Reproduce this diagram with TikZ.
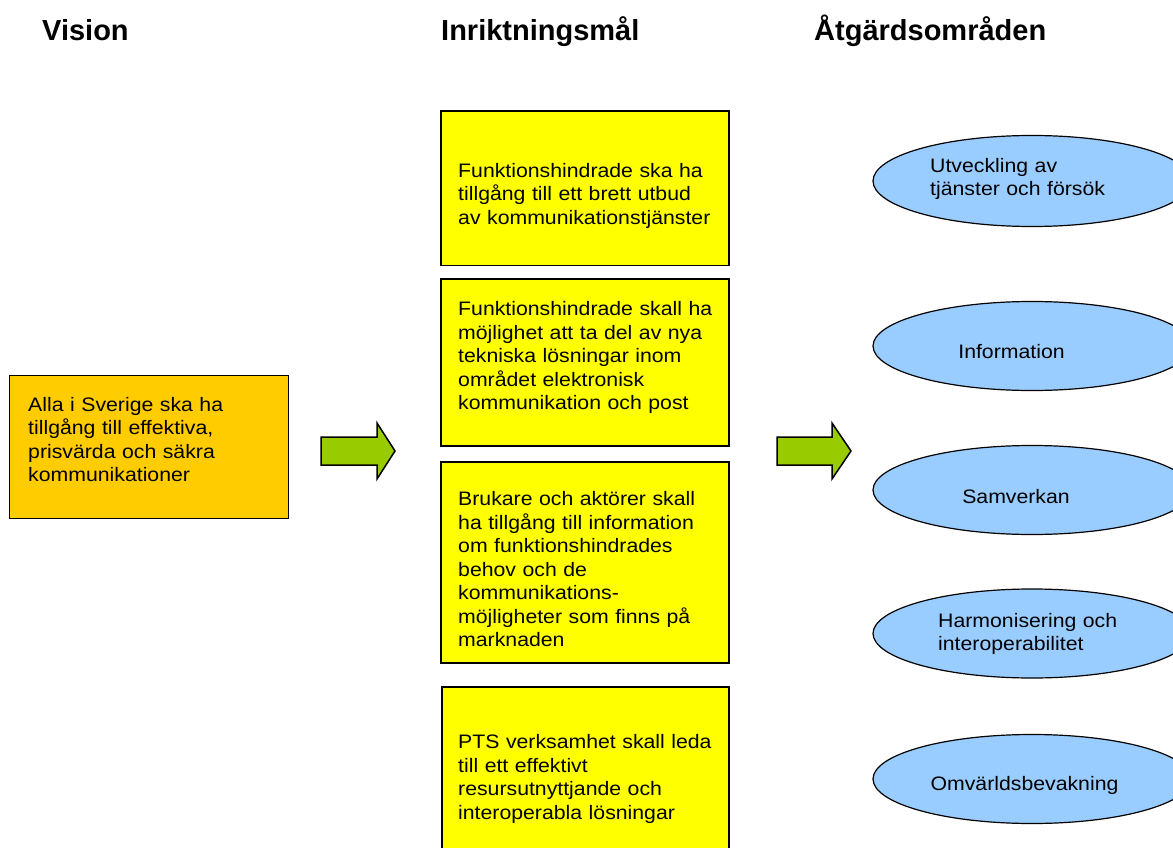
\documentclass[tikz,border=0pt]{standalone}
\usepackage{fontspec}
\setmainfont{Liberation Sans}
\newfontfamily\bodyfont[FakeStretch=1.09]{Liberation Sans}
\usetikzlibrary{shapes.geometric}
\definecolor{visionorange}{HTML}{FFCC00}
\definecolor{goalyellow}{HTML}{FFFF00}
\definecolor{arrowgreen}{HTML}{99CC00}
\definecolor{areablue}{HTML}{99CCFF}
\tikzset{
  titletext/.style={anchor=base west, inner sep=0pt, font=\bfseries\fontsize{29}{34}\selectfont},
  boxtext/.style={anchor=base west, inner sep=0pt, text width=300pt, align=left,
    font=\bodyfont\fontsize{19.5}{23.5}\selectfont},
  ctext/.style={anchor=base, inner sep=0pt, font=\bodyfont\fontsize{19.5}{23.5}\selectfont},
  visionbox/.style={draw=black, line width=1.5pt, fill=visionorange, rectangle, inner sep=0pt},
  goalbox/.style={draw=black, line width=1.5pt, fill=goalyellow, rectangle, inner sep=0pt},
  areaellipse/.style={draw=black, line width=1.2pt, fill=areablue, ellipse, inner sep=0pt,
    minimum width=318pt, minimum height=89pt},
  blockarrow/.style={draw=black, line width=1.5pt, fill=arrowgreen, line join=miter}
}
\begin{document}
\begin{tikzpicture}[x=1pt, y=-1pt]
\clip (0,0) rectangle (1173,848);
\fill[white] (0,0) rectangle (1173,848);

% titles
\node[titletext] (tvision) at (42,40.7) {Vision};
\node[titletext] (tgoal) at (441,40.7) {Inriktningsmål};
\node[titletext] (tarea) at (814,40.7) {Åtgärdsområden};

% vision box
\node[visionbox, minimum width=279pt, minimum height=143pt] (vision) at (149,447) {};
\node[boxtext, text width=260pt] (visiontext) at (28,411) {Alla i Sverige ska ha\\tillgång till effektiva,\\prisvärda och säkra\\kommunikationer};

% goal boxes
\node[goalbox, minimum width=288pt, minimum height=154.5pt] (g1) at (585,188.3) {};
\node[boxtext, text width=270pt] (g1text) at (458,177.5) {Funktionshindrade ska ha\\tillgång till ett brett utbud\\av kommunikationstjänster};

\node[goalbox, minimum width=288pt, minimum height=167pt] (g2) at (585,362.5) {};
\node[boxtext, text width=270pt] (g2text) at (458,315.5) {Funktionshindrade skall ha\\möjlighet att ta del av nya\\tekniska lösningar inom\\området elektronisk\\kommunikation och post};

\node[goalbox, minimum width=288pt, minimum height=201pt] (g3) at (585,562.5) {};
\node[boxtext, text width=270pt] (g3text) at (458,505.5) {Brukare och aktörer skall\\ha tillgång till information\\om funktionshindrades\\behov och de\\kommunikations-\\möjligheter som finns på\\marknaden};

\node[goalbox, minimum width=287pt, minimum height=170pt] (g4) at (585.5,772) {};
\node[boxtext, text width=270pt] (g4text) at (458,748.5) {PTS verksamhet skall leda\\till ett effektivt\\resursutnyttjande och\\interoperabla lösningar};

% block arrows
\coordinate (a1) at (321,437);
\draw[blockarrow] (a1) -- (377,437) -- (377,423) -- (395,451) -- (377,479) -- (377,465) -- (321,465) -- cycle;
\coordinate (a2) at (777,437);
\draw[blockarrow] (a2) -- (832,437) -- (832,423) -- (851,451) -- (832,479) -- (832,465) -- (777,465) -- cycle;

% action areas
\node[areaellipse, minimum height=91pt] (e1) at (1032,181) {};
\node[boxtext, text width=240pt] (e1text) at (930,172.5) {Utveckling av\\tjänster och försök};

\node[areaellipse] (e2) at (1032,346) {};
\node[ctext] (e2text) at (1011.5,358.3) {Information};

\node[areaellipse] (e3) at (1032,490) {};
\node[ctext] (e3text) at (1016,503.3) {Samverkan};

\node[areaellipse] (e4) at (1032,633.5) {};
\node[boxtext, text width=240pt] (e4text) at (938,627.3) {Harmonisering och\\interoperabilitet};

\node[areaellipse] (e5) at (1032,779) {};
\node[ctext] (e5text) at (1024.5,790.7) {Omvärldsbevakning};
\end{tikzpicture}
\end{document}
